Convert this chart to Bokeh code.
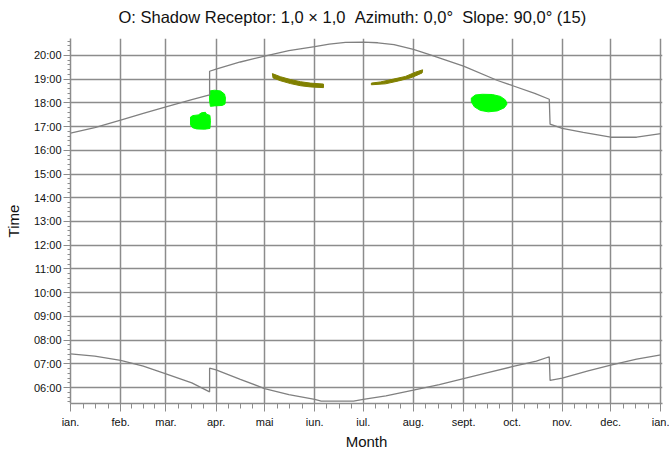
from bokeh.plotting import figure
from bokeh.models import FixedTicker, Range1d, Title
from bokeh.embed import file_html
from bokeh.resources import INLINE

# ---- data ----
month_labels = ["ian.", "feb.", "mar.", "apr.", "mai", "iun.", "iul.", "aug.",
                "sept.", "oct.", "nov.", "dec.", "ian."]
month_days = [0, 31, 59, 90, 120, 151, 181, 212, 243, 273, 304, 334, 365]
hour_ticks = list(range(6, 21))

sunset_day = [0, 15, 31, 45, 59, 75, 86, 86, 90, 105, 120, 135, 151, 160, 170, 181,
              190, 200, 212, 222, 243, 264, 273, 287, 296, 296.5, 304, 317, 334, 350, 365]
sunset_hour = [16.72, 16.95, 17.27, 17.55, 17.83, 18.13, 18.33, 19.33, 19.42, 19.72, 19.97,
               20.2, 20.37, 20.47, 20.55, 20.56, 20.53, 20.45, 20.25, 20.03, 19.55, 18.94,
               18.73, 18.4, 18.15, 17.1, 16.92, 16.75, 16.55, 16.55, 16.7]

sunrise_day = [0, 15, 31, 45, 59, 75, 86, 86, 90, 105, 120, 135, 151, 155, 175, 181,
               195, 212, 228, 243, 258, 273, 288, 296, 296.5, 304, 320, 334, 350, 365]
sunrise_hour = [7.42, 7.33, 7.15, 6.9, 6.58, 6.2, 5.82, 6.82, 6.75, 6.35, 5.96, 5.7, 5.5,
                5.43, 5.43, 5.5, 5.65, 5.89, 6.13, 6.38, 6.63, 6.88, 7.12, 7.3, 6.3, 6.4,
                6.7, 6.95, 7.2, 7.38]

green1_day = [74.2, 75.5, 79, 81, 83.4, 84.1, 86.2, 86.5, 86.2, 83, 78, 75.5, 74.2]
green1_hour = [17.40, 17.46, 17.49, 17.58, 17.6, 17.52, 17.47, 17.25, 16.92, 16.89, 16.9, 16.95, 17.07]

green2_day = [86, 89, 92.7, 95.2, 95.8, 95.5, 93.9, 89, 86.5, 86]
green2_hour = [18.5, 18.53, 18.5, 18.37, 18.2, 17.95, 17.89, 17.87, 17.85, 18.08]

green3_day = [247.8, 250.3, 254.6, 260.8, 265.8, 268.9, 269.9, 268.2, 263.9, 258.3, 253.4, 249.7, 247.8]
green3_hour = [18.20, 18.33, 18.36, 18.35, 18.27, 18.12, 17.95, 17.79, 17.66, 17.62, 17.68, 17.83, 18.04]

olive1_day = [124.8, 129.8, 136, 142.2, 148.3, 156.4, 156.4, 148.3, 142.2, 136, 129.8, 125.2]
olive1_hour = [19.23, 19.1, 18.98, 18.89, 18.83, 18.79, 18.64, 18.67, 18.72, 18.81, 18.93, 19.05]

olive2_day = [186.0, 194.7, 202.7, 210.1, 213.2, 217.4, 217.7, 213.2, 207.0, 199.0, 191.6, 186.0]
olive2_hour = [18.76, 18.8, 18.92, 19.05, 19.13, 19.26, 19.39, 19.29, 19.11, 18.99, 18.88, 18.83]

title_text = "O: Shadow Receptor: 1,0 \u00d7 1,0 \u00a0Azimuth: 0,0\u00b0 \u00a0Slope: 90,0\u00b0 (15)"

# ---- figure ----
FONT = "Liberation Sans"
GRID = "#8c8c8c"

p = figure(width=669, height=452, output_backend="svg", toolbar_location=None,
           x_range=Range1d(0, 366), y_range=Range1d(5.33, 20.71),
           min_border_left=70, min_border_right=7, min_border_top=37, min_border_bottom=47)
p.outline_line_color = None
p.background_fill_color = "white"
p.border_fill_color = "white"

# spacer between frame and title
p.add_layout(Title(text=" ", text_font_size="6px", standoff=0), "above")

p.title.text = title_text
p.title.text_font = FONT
p.title.text_font_size = "16.5px"
p.title.text_font_style = "normal"
p.title.text_color = "#111111"
p.title.align = "left"
p.title.offset = 48

# minor ticks
x_minor = []
for i in range(12):
    a, b = month_days[i], month_days[i + 1]
    for k in range(1, 4):
        x_minor.append(a + (b - a) * k / 4.0)
y_minor = [5.4 + 0.2 * i for i in range(77)]

xax = p.xaxis[0]
xax.ticker = FixedTicker(ticks=month_days, minor_ticks=x_minor)
xax.major_label_overrides = {d: lab for d, lab in zip(month_days, month_labels)}
xax.axis_label = "Month"
yax = p.yaxis[0]
yax.ticker = FixedTicker(ticks=hour_ticks, minor_ticks=y_minor)
yax.major_label_overrides = {h: "%02d:00" % h for h in hour_ticks}
yax.axis_label = "Time"

for ax in (xax, yax):
    ax.axis_line_color = GRID
    ax.axis_line_width = 1.5
    ax.major_tick_line_color = GRID
    ax.minor_tick_line_color = GRID
    ax.major_tick_in = 0
    ax.minor_tick_in = 0
    ax.major_label_text_font = FONT
    ax.major_label_text_font_size = "11px"
    ax.major_label_text_color = "#111111"
    ax.axis_label_text_font = FONT
    ax.axis_label_text_font_size = "15px"
    ax.axis_label_text_font_style = "normal"
    ax.axis_label_text_color = "#111111"

xax.major_tick_out = 8
xax.minor_tick_out = 5
xax.major_label_standoff = 4
xax.axis_label_standoff = 2
yax.major_tick_out = 7
yax.minor_tick_out = 3
yax.major_label_standoff = 2
yax.axis_label_standoff = 9

p.xgrid.grid_line_color = GRID
p.xgrid.grid_line_width = 1.5
p.ygrid.grid_line_color = GRID
p.ygrid.grid_line_width = 1.5

# shadow regions
p.patch(green1_day, green1_hour, fill_color="#00ff00", line_color="#00ff00", line_width=1)
p.patch(green2_day, green2_hour, fill_color="#00ff00", line_color="#00ff00", line_width=1)
p.patch(green3_day, green3_hour, fill_color="#00ff00", line_color="#00ff00", line_width=1)
p.patch(olive1_day, olive1_hour, fill_color="#808000", line_color="#808000", line_width=1)
p.patch(olive2_day, olive2_hour, fill_color="#808000", line_color="#808000", line_width=1)

# sunrise / sunset
p.line(sunset_day, sunset_hour, line_color="#808080", line_width=1.3)
p.line(sunrise_day, sunrise_hour, line_color="#808080", line_width=1.3)

open("out.html", "w").write(file_html(p, INLINE))
